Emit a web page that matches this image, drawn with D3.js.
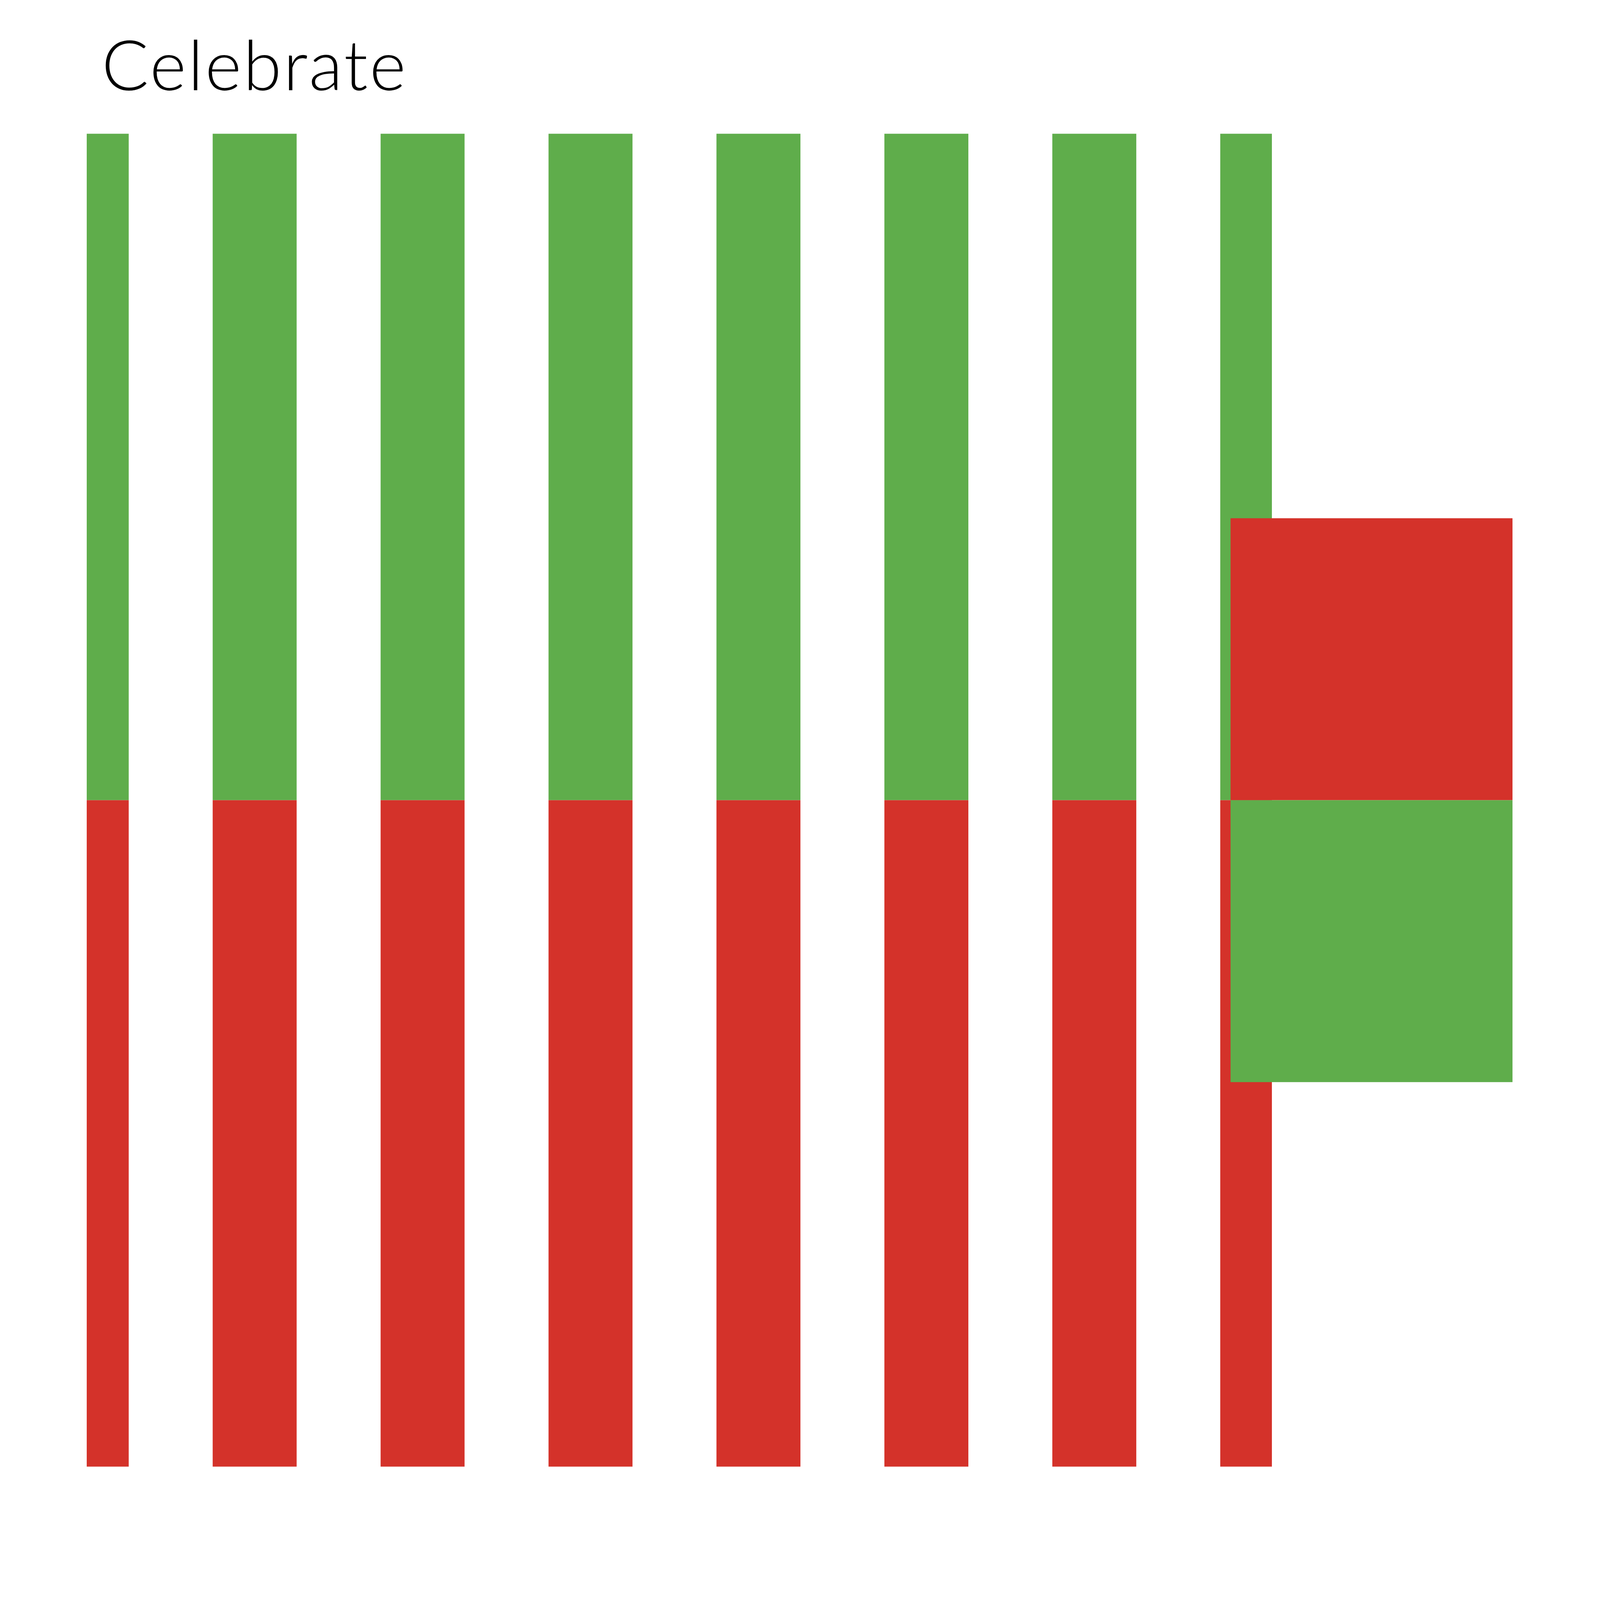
<!DOCTYPE html>
<html>
<head>
<meta charset="utf-8">
<script src="https://cdn.jsdelivr.net/npm/d3@7"></script>
<style>
  html, body { margin: 0; padding: 0; background: #fff; overflow: hidden; }
</style>
</head>
<body>
<div class="celebrate"></div>
<script>
// chart data
const categories = ["1", "2", "3", "4", "5", "6", "7", "8"];
const upValues = [1, 1, 1, 1, 1, 1, 1, 1];
const downValues = [-1, -1, -1, -1, -1, -1, -1, -1];
const sideValues = [0.423, -0.423];   // the big block on the right
const titleText = "Celebrate";

const W = 4501, H = 4501;
const Plot = { left: 244, right: 3578, top: 376, bottom: 4126 };
const Green = "#5fad4b", Red = "#d4322a";

// svg scaled to whatever the window really is
const svg = d3.select(".celebrate").append("svg")
    .attr("width", window.innerWidth)
    .attr("height", window.innerHeight)
    .attr("viewBox", "0 0 " + W + " " + H)
    .attr("preserveAspectRatio", "xMinYMin meet");

// scales
// first band starts half a bar left of the plot, so bar 1 is cut in half
const step = 472.4;
const x0 = Plot.left - step / 4;
const x = d3.scaleBand()
    .domain(categories)
    .range([x0, x0 + step * (categories.length - 0.5)])
    .paddingInner(0.5)
    .paddingOuter(0);

const y = d3.scaleLinear()
    .domain([-1, 1])
    .range([Plot.bottom, Plot.top]);

// clip the bars to the plot area
svg.append("clipPath")
    .attr("id", "plotclip")
  .append("rect")
    .attr("x", Plot.left)
    .attr("y", Plot.top)
    .attr("width", Plot.right - Plot.left)
    .attr("height", Plot.bottom - Plot.top);

const bars = svg.append("g").attr("clip-path", "url(#plotclip)");

// green (up) bars
bars.selectAll(".up")
    .data(categories)
  .enter().append("rect")
    .attr("class", "up")
    .attr("x", d => x(d))
    .attr("y", (d, i) => y(upValues[i]))
    .attr("width", x.bandwidth())
    .attr("height", (d, i) => y(0) - y(upValues[i]))
    .style("fill", Green);

// red (down) bars
bars.selectAll(".down")
    .data(categories)
  .enter().append("rect")
    .attr("class", "down")
    .attr("x", d => x(d))
    .attr("y", y(0))
    .attr("width", x.bandwidth())
    .attr("height", (d, i) => y(downValues[i]) - y(0))
    .style("fill", Red);

// side block: red above zero, green below, square halves
const sideW = y(0) - y(sideValues[0]);
const sideX = x(categories[categories.length - 1]) + 29;
svg.append("rect")
    .attr("x", sideX)
    .attr("y", y(sideValues[0]))
    .attr("width", sideW)
    .attr("height", y(0) - y(sideValues[0]))
    .style("fill", Red);
svg.append("rect")
    .attr("x", sideX)
    .attr("y", y(0))
    .attr("width", sideW)
    .attr("height", y(sideValues[1]) - y(0))
    .style("fill", Green);

// title
svg.append("text")
    .attr("x", 286)
    .attr("y", 254)
    .style("font-family", "Lato, 'Open Sans', sans-serif")
    .style("font-weight", 300)
    .style("font-size", "196px")
    .style("letter-spacing", "4.9px")
    .style("fill", "#000")
    .text(titleText);
</script>
</body>
</html>
